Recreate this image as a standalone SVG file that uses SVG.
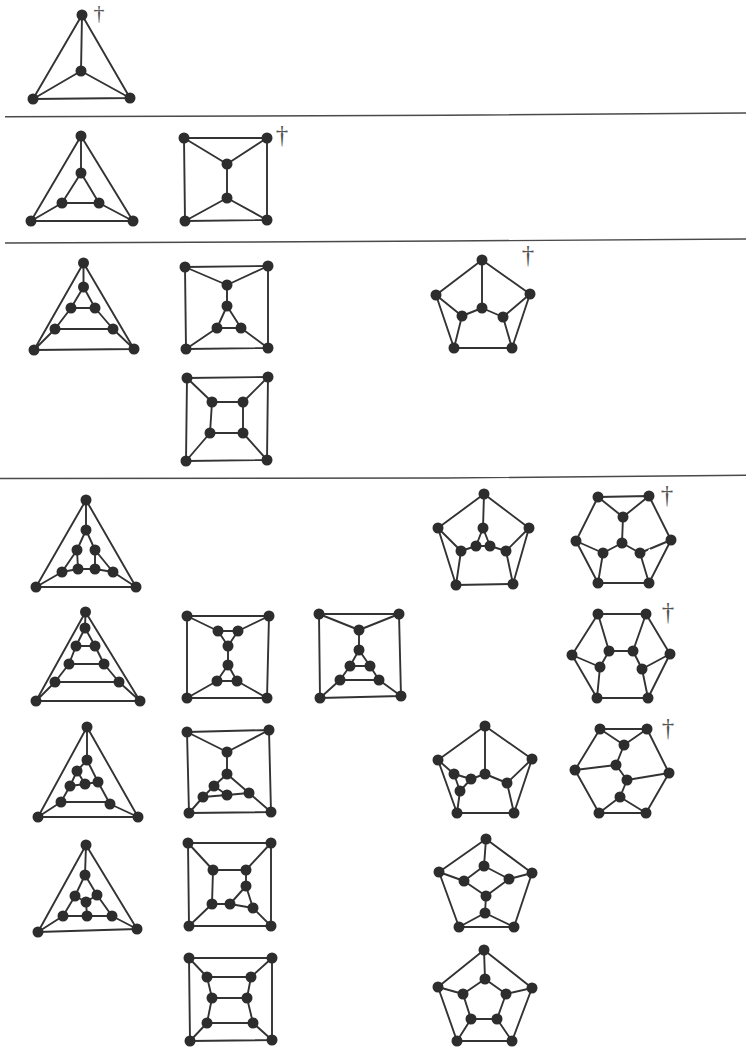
<svg xmlns="http://www.w3.org/2000/svg" width="746" height="1048" viewBox="0 0 746 1048">
<style>
.e{fill:none;stroke:#333;stroke-width:1.9;stroke-linecap:round;stroke-linejoin:round}
.r{fill:none;stroke:#4a4a4a;stroke-width:1.4}
.n{fill:#2d2d2d}
.d{font-family:"Liberation Serif",serif;font-size:25px;fill:#555;text-anchor:middle}
.d.s{font-size:22px}
</style>
<rect width="746" height="1048" fill="#fff"/>
<g id="rules">
<polyline class="r" points="5,116.8 446,115.3 746,113"/>
<polyline class="r" points="5,243 300,241.8 446,241 746,239"/>
<polyline class="r" points="0,478.5 446,478 746,475.3"/>
</g>
<g id="connectors">
<path class="e" d="M82,15L33,99L130,98ZM82,15L81,71M81,71L33,99M81,71L130,98"/>
<path class="e" d="M81,136L31,221L133,221ZM81,136V173M62,203L81,173L99,203ZM31,221L62,203M133,221L99,203"/>
<path class="e" d="M184,138H267V220L185,221ZM184,138L227,164L267,138M227,164V198M185,221L227,198L267,220"/>
<path class="e" d="M83.5,263L34,350L134,349ZM83.5,263V287M71,308L83.5,287L95,308ZM71,308L55,329H113L95,308M55,329L34,350M113,329L134,349"/>
<path class="e" d="M185,267L268,266L268,348L186,349ZM185,267L227,285L268,266M227,285V306M217,328L227,306L241,328ZM217,328L186,349M241,328L268,348"/>
<path class="e" d="M187,378L268,377L267,460L186,461ZM212,402H243V433H210ZM187,378L212,402M268,377L243,402M186,461L210,433M267,460L243,433"/>
<path class="e" d="M482,260L436,295L454,348H512L530,294ZM482,260V308M436,295L462,316L454,348M530,294L503,317L512,348M462,316L482,308L503,317"/>
<path class="e" d="M86,500L36,587H136ZM86,500V530M77,550L86,530L95,550M77,550L78,569M77,550L62,572M95,550L95,569M95,550L113,572M36,587L62,572L78,569L95,569L113,572L136,587"/>
<path class="e" d="M85.5,612L36,701H140ZM85.5,612L85,628M76,646L85,628L95,646ZM76,646L69,664H104L95,646M69,664L55,682H119L104,664M55,682L36,701M119,682L140,701"/>
<path class="e" d="M187,616H269L267,698H187ZM187,616L218,631H238L269,616M218,631L228,646L238,631M228,646V665M217,681L228,665L237,681ZM217,681L187,698M237,681L267,698"/>
<path class="e" d="M319,614H399L401,696L320,698ZM319,614L359,630L399,614M359,630V650M350,666L359,650L370,666ZM350,666L340,680H379L370,666M340,680L320,698M379,680L401,696"/>
<path class="e" d="M484,494L438,528L456,585L513,584L529,528ZM484,494L483,528M438,528L461,551L476,546L490,546L506,551L529,528M461,551L456,585M506,551L513,584M476,546L483,528L490,546"/>
<path class="e" d="M598,497L649,496L671,540L649,583H598L576,541ZM598,497L623,517L649,496M623,517L622,543M576,541L603,553L622,543L640,553M603,553L598,583M640,553L649,583"/>
<path class="e" d="M640,553L671,540"/>
<path d="M644,558L650,549" fill="none" stroke="#fff" stroke-width="1.5"/>
<path class="e" d="M598,614H646L670,654L648,698H597L572,655ZM598,614L609,651H633L646,614M609,651L600,667L572,655M600,667L597,698M633,651L642,669L670,654M642,669L648,698"/>
<path class="e" d="M485,726L438,760L457,813H514L532,759ZM485,726V774M438,760L454,774L471,779L485,774L507,783L532,759M454,774L460,791L457,813M471,779L460,791M507,783L514,813"/>
<path class="e" d="M600,729H647L669,773L646,813H599L575,770ZM600,729L624,745L647,729M624,745L616,765L627,780L620,797M575,770L616,765M627,780L669,773M599,813L620,797L646,813"/>
<path class="e" d="M87,727L38,817H138ZM87,727V760M77,771L87,760L98,782M77,771L70,786L85,784L77,771M85,784L98,782M70,786L61,802L38,817M98,782L110,804L138,817M61,802H110"/>
<path class="e" d="M187,732L269,730L271,812L189,813ZM187,732L227,752L269,730M227,752V774M214,786L227,774L249,793M214,786L203,797L227,795L214,786M227,795L249,793M203,797L189,813M249,793L271,812"/>
<path class="e" d="M86,845L38,932L137,929ZM86,845L85,875M75,896L85,875L97,895L86,902ZM75,896L63,916L87,916L112,916L97,895M86,902L87,916M63,916L38,932M112,916L137,929"/>
<path class="e" d="M188,843H271V926H189ZM188,843L213,870H246L271,843M246,870V886M213,870L212,904L230,904L253,908L246,886L230,904M212,904L189,926M253,908L271,926"/>
<path class="e" d="M189,958H272V1040L190,1041ZM189,958L207,977H251L272,958M207,977L212,998H247L251,977M212,998L207,1023H253L247,998M207,1023L190,1041M253,1023L272,1040"/>
<path class="e" d="M486,839L439,872L459,927H514L532,873ZM486,839L484,866M439,872L464,881L484,866L509,879L532,873M464,881L486,896L509,879M486,896L485,913M459,927L485,913L514,927"/>
<path class="e" d="M484,950L438,987L457,1041H512L532,988ZM484,950L485,979M438,987L463,994L485,979L506,994L532,988M463,994L471,1019H497L506,994M471,1019L457,1041M497,1019L512,1041"/>
</g>
<g id="daggers">
<text class="d s" x="99" y="20">†</text>
<text class="d" x="282" y="143">†</text>
<text class="d" x="528" y="263">†</text>
<text class="d" x="667" y="503">†</text>
<text class="d" x="668" y="620">†</text>
<text class="d" x="668" y="736">†</text>
</g>
<g id="graph1" class="n"><circle cx="82" cy="15" r="5.5"/><circle cx="81" cy="71" r="5.5"/><circle cx="33" cy="99" r="5.5"/><circle cx="130" cy="98" r="5.5"/></g>
<g id="graph2" class="n"><circle cx="81" cy="136" r="5.5"/><circle cx="81" cy="173" r="5.5"/><circle cx="62" cy="203" r="5.5"/><circle cx="99" cy="203" r="5.5"/><circle cx="31" cy="221" r="5.5"/><circle cx="133" cy="221" r="5.5"/></g>
<g id="graph3" class="n"><circle cx="184" cy="138" r="5.5"/><circle cx="267" cy="138" r="5.5"/><circle cx="227" cy="164" r="5.5"/><circle cx="227" cy="198" r="5.5"/><circle cx="185" cy="221" r="5.5"/><circle cx="267" cy="220" r="5.5"/></g>
<g id="graph4" class="n"><circle cx="83.5" cy="263" r="5.5"/><circle cx="83.5" cy="287" r="5.5"/><circle cx="71" cy="308" r="5.5"/><circle cx="95" cy="308" r="5.5"/><circle cx="55" cy="329" r="5.5"/><circle cx="113" cy="329" r="5.5"/><circle cx="34" cy="350" r="5.5"/><circle cx="134" cy="349" r="5.5"/></g>
<g id="graph5" class="n"><circle cx="185" cy="267" r="5.5"/><circle cx="268" cy="266" r="5.5"/><circle cx="227" cy="285" r="5.5"/><circle cx="227" cy="306" r="5.5"/><circle cx="217" cy="328" r="5.5"/><circle cx="241" cy="328" r="5.5"/><circle cx="186" cy="349" r="5.5"/><circle cx="268" cy="348" r="5.5"/></g>
<g id="graph6" class="n"><circle cx="187" cy="378" r="5.5"/><circle cx="268" cy="377" r="5.5"/><circle cx="186" cy="461" r="5.5"/><circle cx="267" cy="460" r="5.5"/><circle cx="212" cy="402" r="5.5"/><circle cx="243" cy="402" r="5.5"/><circle cx="210" cy="433" r="5.5"/><circle cx="243" cy="433" r="5.5"/></g>
<g id="graph7" class="n"><circle cx="482" cy="260" r="5.5"/><circle cx="436" cy="295" r="5.5"/><circle cx="530" cy="294" r="5.5"/><circle cx="454" cy="348" r="5.5"/><circle cx="512" cy="348" r="5.5"/><circle cx="482" cy="308" r="5.5"/><circle cx="462" cy="316" r="5.5"/><circle cx="503" cy="317" r="5.5"/></g>
<g id="graph8" class="n"><circle cx="86" cy="500" r="5.5"/><circle cx="86" cy="530" r="5.5"/><circle cx="77" cy="550" r="5.5"/><circle cx="95" cy="550" r="5.5"/><circle cx="62" cy="572" r="5.5"/><circle cx="78" cy="569" r="5.5"/><circle cx="95" cy="569" r="5.5"/><circle cx="113" cy="572" r="5.5"/><circle cx="36" cy="587" r="5.5"/><circle cx="136" cy="587" r="5.5"/></g>
<g id="graph9" class="n"><circle cx="85.5" cy="612" r="5.5"/><circle cx="85" cy="628" r="5.5"/><circle cx="76" cy="646" r="5.5"/><circle cx="95" cy="646" r="5.5"/><circle cx="69" cy="664" r="5.5"/><circle cx="104" cy="664" r="5.5"/><circle cx="55" cy="682" r="5.5"/><circle cx="119" cy="682" r="5.5"/><circle cx="36" cy="701" r="5.5"/><circle cx="140" cy="701" r="5.5"/></g>
<g id="graph10" class="n"><circle cx="187" cy="616" r="5.5"/><circle cx="269" cy="616" r="5.5"/><circle cx="187" cy="698" r="5.5"/><circle cx="267" cy="698" r="5.5"/><circle cx="218" cy="631" r="5.5"/><circle cx="238" cy="631" r="5.5"/><circle cx="228" cy="646" r="5.5"/><circle cx="228" cy="665" r="5.5"/><circle cx="217" cy="681" r="5.5"/><circle cx="237" cy="681" r="5.5"/></g>
<g id="graph11" class="n"><circle cx="319" cy="614" r="5.5"/><circle cx="399" cy="614" r="5.5"/><circle cx="320" cy="698" r="5.5"/><circle cx="401" cy="696" r="5.5"/><circle cx="359" cy="630" r="5.5"/><circle cx="359" cy="650" r="5.5"/><circle cx="350" cy="666" r="5.5"/><circle cx="370" cy="666" r="5.5"/><circle cx="340" cy="680" r="5.5"/><circle cx="379" cy="680" r="5.5"/></g>
<g id="graph12" class="n"><circle cx="484" cy="494" r="5.5"/><circle cx="438" cy="528" r="5.5"/><circle cx="529" cy="528" r="5.5"/><circle cx="456" cy="585" r="5.5"/><circle cx="513" cy="584" r="5.5"/><circle cx="483" cy="528" r="5.5"/><circle cx="461" cy="551" r="5.5"/><circle cx="476" cy="546" r="5.5"/><circle cx="490" cy="546" r="5.5"/><circle cx="506" cy="551" r="5.5"/></g>
<g id="graph13" class="n"><circle cx="598" cy="497" r="5.5"/><circle cx="649" cy="496" r="5.5"/><circle cx="576" cy="541" r="5.5"/><circle cx="671" cy="540" r="5.5"/><circle cx="598" cy="583" r="5.5"/><circle cx="649" cy="583" r="5.5"/><circle cx="623" cy="517" r="5.5"/><circle cx="622" cy="543" r="5.5"/><circle cx="603" cy="553" r="5.5"/><circle cx="640" cy="553" r="5.5"/></g>
<g id="graph14" class="n"><circle cx="598" cy="614" r="5.5"/><circle cx="646" cy="614" r="5.5"/><circle cx="572" cy="655" r="5.5"/><circle cx="670" cy="654" r="5.5"/><circle cx="597" cy="698" r="5.5"/><circle cx="648" cy="698" r="5.5"/><circle cx="609" cy="651" r="5.5"/><circle cx="633" cy="651" r="5.5"/><circle cx="600" cy="667" r="5.5"/><circle cx="642" cy="669" r="5.5"/></g>
<g id="graph15" class="n"><circle cx="485" cy="726" r="5.5"/><circle cx="438" cy="760" r="5.5"/><circle cx="532" cy="759" r="5.5"/><circle cx="457" cy="813" r="5.5"/><circle cx="514" cy="813" r="5.5"/><circle cx="485" cy="774" r="5.5"/><circle cx="454" cy="774" r="5.5"/><circle cx="471" cy="779" r="5.5"/><circle cx="460" cy="791" r="5.5"/><circle cx="507" cy="783" r="5.5"/></g>
<g id="graph16" class="n"><circle cx="600" cy="729" r="5.5"/><circle cx="647" cy="729" r="5.5"/><circle cx="575" cy="770" r="5.5"/><circle cx="669" cy="773" r="5.5"/><circle cx="599" cy="813" r="5.5"/><circle cx="646" cy="813" r="5.5"/><circle cx="624" cy="745" r="5.5"/><circle cx="616" cy="765" r="5.5"/><circle cx="627" cy="780" r="5.5"/><circle cx="620" cy="797" r="5.5"/></g>
<g id="graph17" class="n"><circle cx="87" cy="727" r="5.5"/><circle cx="87" cy="760" r="5.5"/><circle cx="77" cy="771" r="5.5"/><circle cx="70" cy="786" r="5.5"/><circle cx="85" cy="784" r="5.5"/><circle cx="98" cy="782" r="5.5"/><circle cx="61" cy="802" r="5.5"/><circle cx="110" cy="804" r="5.5"/><circle cx="38" cy="817" r="5.5"/><circle cx="138" cy="817" r="5.5"/></g>
<g id="graph18" class="n"><circle cx="187" cy="732" r="5.5"/><circle cx="269" cy="730" r="5.5"/><circle cx="189" cy="813" r="5.5"/><circle cx="271" cy="812" r="5.5"/><circle cx="227" cy="752" r="5.5"/><circle cx="227" cy="774" r="5.5"/><circle cx="214" cy="786" r="5.5"/><circle cx="203" cy="797" r="5.5"/><circle cx="227" cy="795" r="5.5"/><circle cx="249" cy="793" r="5.5"/></g>
<g id="graph19" class="n"><circle cx="86" cy="845" r="5.5"/><circle cx="85" cy="875" r="5.5"/><circle cx="75" cy="896" r="5.5"/><circle cx="97" cy="895" r="5.5"/><circle cx="86" cy="902" r="5.5"/><circle cx="63" cy="916" r="5.5"/><circle cx="87" cy="916" r="5.5"/><circle cx="112" cy="916" r="5.5"/><circle cx="38" cy="932" r="5.5"/><circle cx="137" cy="929" r="5.5"/></g>
<g id="graph20" class="n"><circle cx="188" cy="843" r="5.5"/><circle cx="271" cy="843" r="5.5"/><circle cx="189" cy="926" r="5.5"/><circle cx="271" cy="926" r="5.5"/><circle cx="213" cy="870" r="5.5"/><circle cx="246" cy="870" r="5.5"/><circle cx="246" cy="886" r="5.5"/><circle cx="212" cy="904" r="5.5"/><circle cx="230" cy="904" r="5.5"/><circle cx="253" cy="908" r="5.5"/></g>
<g id="graph21" class="n"><circle cx="189" cy="958" r="5.5"/><circle cx="272" cy="958" r="5.5"/><circle cx="190" cy="1041" r="5.5"/><circle cx="272" cy="1040" r="5.5"/><circle cx="207" cy="977" r="5.5"/><circle cx="251" cy="977" r="5.5"/><circle cx="212" cy="998" r="5.5"/><circle cx="247" cy="998" r="5.5"/><circle cx="207" cy="1023" r="5.5"/><circle cx="253" cy="1023" r="5.5"/></g>
<g id="graph22" class="n"><circle cx="486" cy="839" r="5.5"/><circle cx="439" cy="872" r="5.5"/><circle cx="532" cy="873" r="5.5"/><circle cx="459" cy="927" r="5.5"/><circle cx="514" cy="927" r="5.5"/><circle cx="484" cy="866" r="5.5"/><circle cx="464" cy="881" r="5.5"/><circle cx="509" cy="879" r="5.5"/><circle cx="486" cy="896" r="5.5"/><circle cx="485" cy="913" r="5.5"/></g>
<g id="graph23" class="n"><circle cx="484" cy="950" r="5.5"/><circle cx="438" cy="987" r="5.5"/><circle cx="532" cy="988" r="5.5"/><circle cx="457" cy="1041" r="5.5"/><circle cx="512" cy="1041" r="5.5"/><circle cx="485" cy="979" r="5.5"/><circle cx="463" cy="994" r="5.5"/><circle cx="506" cy="994" r="5.5"/><circle cx="471" cy="1019" r="5.5"/><circle cx="497" cy="1019" r="5.5"/></g>
</svg>
